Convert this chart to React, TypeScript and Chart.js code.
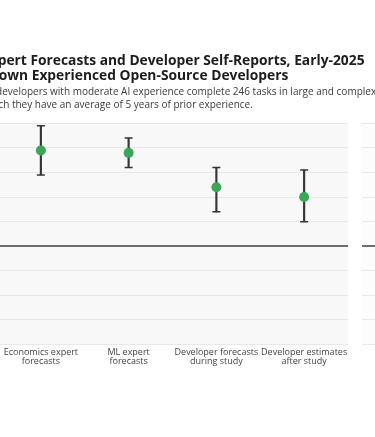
import React, { useEffect, useRef } from 'react';
import { Chart, registerables } from 'chart.js';

Chart.register(...registerables);

// ---- data ----
const categories: string[][] = [
  ['Economics expert', 'forecasts'],
  ['ML expert', 'forecasts'],
  ['Developer forecasts', 'during study'],
  ['Developer estimates', 'after study'],
];
const speedup: number[] = [39, 38, 24, 20];
const ciLow: number[] = [29, 32, 14, 10];
const ciHigh: number[] = [49, 44, 32, 31];

const observedCategory: string[][] = [['Observed', 'result']];
const observedSpeedup: number[] = [-19];
const observedLow: number[] = [-35];
const observedHigh: number[] = [-2];

const yMin = -40;
const yMax = 50;
const yStep = 10;

const titleLines: string[] = [
  'Expert Forecasts and Developer Self-Reports, Early-2025',
  'Shown Experienced Open-Source Developers',
];
const subtitleLines: string[] = [
  '16 developers with moderate AI experience complete 246 tasks in large and complex projects on',
  'which they have an average of 5 years of prior experience.',
];

const FONT = "'Open Sans', sans-serif";

const panelBg = {
  id: 'panelBg',
  beforeDraw(chart: any, _args: any, opts: any) {
    const { ctx, chartArea } = chart;
    ctx.save();
    ctx.fillStyle = opts.color || '#f8f8f8';
    ctx.fillRect(chartArea.left, chartArea.top, chartArea.right - chartArea.left, chartArea.bottom - chartArea.top);
    ctx.restore();
  },
};

const gridColor = (c: any) => (c.tick && c.tick.value === 0 ? '#6e6e6e' : '#e8e8e8');
const gridWidth = (c: any) => (c.tick && c.tick.value === 0 ? 2 : 1);

function errorDatasets(values: number[], lows: number[], highs: number[], color: string) {
  return [
    {
      type: 'line', label: 'Estimate', data: values, showLine: false,
      pointRadius: 5, pointHoverRadius: 5, pointBackgroundColor: color,
      pointBorderColor: color, pointBorderWidth: 0, borderColor: color, order: 0,
    },
    {
      type: 'line', label: 'Upper', data: highs, showLine: false, pointStyle: 'line',
      pointRadius: 4, pointHoverRadius: 4, pointBorderColor: '#363636', pointBorderWidth: 1.5,
      borderColor: '#363636', order: 1,
    },
    {
      type: 'line', label: 'Lower', data: lows, showLine: false, pointStyle: 'line',
      pointRadius: 4, pointHoverRadius: 4, pointBorderColor: '#363636', pointBorderWidth: 1.5,
      borderColor: '#363636', order: 1,
    },
    {
      type: 'bar', label: 'Interval', data: lows.map((l, i) => [l, highs[i]]),
      backgroundColor: '#363636', barThickness: 1.5, order: 2,
    },
  ];
}

export default function App() {
  const refA = useRef<HTMLCanvasElement>(null);
  const refB = useRef<HTMLCanvasElement>(null);

  const A_LEFT = -60;
  const A_W = 560;
  const H = 437;
  const plotLeft = -3;
  const plotRight = 348;
  const titleLeft = -18;
  const xAxisH = 92.5;
  const B_LEFT = 356;
  const B_W = 100;

  useEffect(() => {
    if (!refA.current || !refB.current) return;
    const tickFont = { family: FONT, size: 9, lineHeight: 1.05 };
    const chartA = new Chart(refA.current, {
      type: 'bar',
      data: {
        labels: categories as any,
        datasets: errorDatasets(speedup, ciLow, ciHigh, '#3ca659') as any,
      },
      options: {
        responsive: false,
        animation: false,
        layout: { padding: { left: titleLeft - A_LEFT, right: 0, top: 0, bottom: 0 } },
        plugins: {
          legend: { display: false },
          tooltip: { enabled: false },
          title: {
            display: true, text: titleLines, align: 'start', color: '#1c1c1c',
            font: { family: FONT, size: 13.8, weight: 'bold', lineHeight: 1.1 },
            padding: { top: 53, bottom: 2 },
          },
          subtitle: {
            display: true, text: subtitleLines, align: 'start', color: '#3a3a3a',
            font: { family: FONT, size: 10, lineHeight: 1.3 },
            padding: { top: 0, bottom: 12 },
          },
          panelBg: { color: '#f8f8f8' },
        } as any,
        scales: {
          x: {
            grid: { display: false, drawTicks: false }, border: { display: false },
            ticks: { color: '#444', font: tickFont, padding: 3, maxRotation: 0, autoSkip: false },
            afterFit: (s: any) => { s.height = xAxisH; },
          },
          y: {
            min: yMin, max: yMax,
            ticks: {
              stepSize: yStep, color: '#444', font: tickFont, padding: 4,
              callback: (v: any) => (v > 0 ? '+' : '') + v + '%',
            },
            grid: { color: gridColor, lineWidth: gridWidth, drawTicks: false },
            border: { display: false },
            afterFit: (s: any) => { s.width = plotLeft - titleLeft; },
          },
          yPad: {
            type: 'linear', position: 'right', display: true,
            grid: { display: false }, border: { display: false }, ticks: { display: false },
            afterFit: (s: any) => { s.width = A_LEFT + A_W - plotRight; },
          },
        } as any,
      },
      plugins: [panelBg],
    });

    const chartB = new Chart(refB.current, {
      type: 'bar',
      data: {
        labels: observedCategory as any,
        datasets: errorDatasets(observedSpeedup, observedLow, observedHigh, '#e0533c') as any,
      },
      options: {
        responsive: false,
        animation: false,
        layout: { padding: { left: 0, right: 12, top: chartA.chartArea.top, bottom: 0 } },
        plugins: {
          legend: { display: false },
          tooltip: { enabled: false },
          panelBg: { color: '#fcfcfc' },
        } as any,
        scales: {
          x: {
            grid: { display: false, drawTicks: false }, border: { display: false },
            ticks: { color: '#444', font: tickFont, padding: 3, maxRotation: 0, autoSkip: false },
            afterFit: (s: any) => { s.height = xAxisH; },
          },
          y: {
            min: yMin, max: yMax,
            ticks: { stepSize: yStep, display: false },
            grid: { color: gridColor, lineWidth: gridWidth, drawTicks: false },
            border: { display: false },
            afterFit: (s: any) => { s.width = 0; },
          },
        } as any,
      },
      plugins: [panelBg],
    });

    return () => {
      chartA.destroy();
      chartB.destroy();
    };
  }, []);

  return (
    <div style={{ position: 'fixed', left: 0, top: 0, width: 375, height: H, overflow: 'hidden', background: '#fff' }}>
      <canvas ref={refA} width={A_W} height={H} style={{ position: 'absolute', left: A_LEFT, top: 0, display: 'block' }} />
      <canvas ref={refB} width={B_W} height={H} style={{ position: 'absolute', left: B_LEFT, top: 0, display: 'block' }} />
    </div>
  );
}
